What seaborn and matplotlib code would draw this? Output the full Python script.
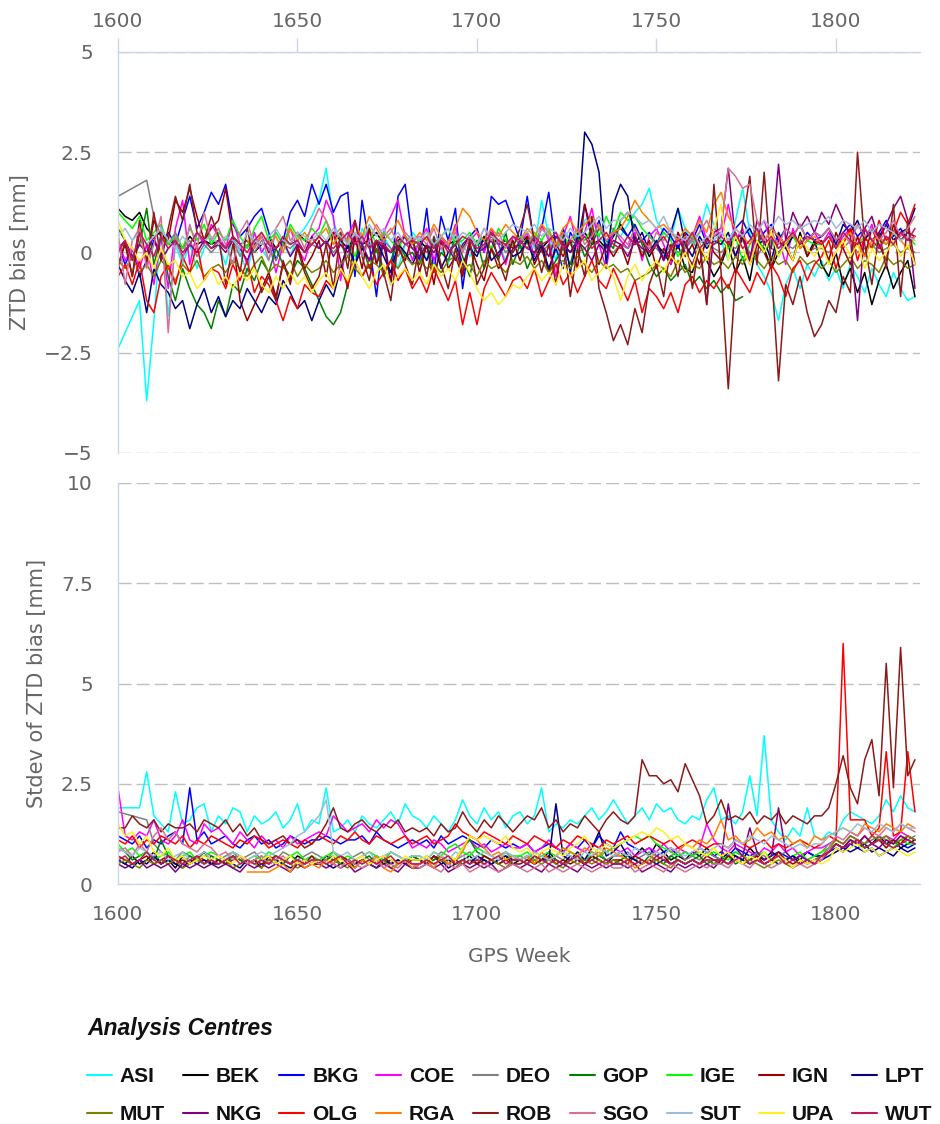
import matplotlib

matplotlib.use("Agg")

import matplotlib.pyplot as plt
import numpy as np
import pandas as pd
import seaborn as sns
from matplotlib.font_manager import FontProperties
from matplotlib.lines import Line2D
from matplotlib.ticker import FuncFormatter

# one value every second GPS week, values in tenths of a millimetre
WEEKS = list(range(1600, 1824, 2))

CENTRES = ["ASI", "BEK", "BKG", "COE", "DEO", "GOP", "IGE", "IGN", "LPT",
           "MUT", "NKG", "OLG", "RGA", "ROB", "SGO", "SUT", "UPA", "WUT"]
COLOURS = ["#00ffff", "#000000", "#0000ff", "#ff00ff", "#808080", "#008000",
           "#00ff00", "#990000", "#000080", "#808000", "#800080", "#ff0000",
           "#ff8000", "#8b1a1a", "#d87093", "#9dbcd8", "#ffee22", "#c0185a"]

X_TICKS = [1600, 1650, 1700, 1750, 1800]
BIAS_TICKS = [-5, -2.5, 0, 2.5, 5]
STDEV_TICKS = [0, 2.5, 5, 7.5, 10]

# ---- ZTD bias ----
BIAS_ASI = [-24, None, None, -12, -37, -17, 7, -16, 2, -3, 2, -4, 1, 3,
            2, -3, 4, 0, -5, 3, 1, -2, 5, 2, -1, 4, 6, 9,
            13, 21, 8, 2, 5, -3, 6, 3, -2, 4, 1, -4, 2, 5,
            3, -2, 4, 1, -3, 6, 2, -1, 3, 0, 5, 2, -2, 4,
            2, 5, 1, 13, 4, -2, 6, 3, 0, 8, 9, 4, 2, 6,
            4, 7, 10, 12, 16, 8, 5, 3, 11, 6, 2, 5, 12, 7,
            3, -2, 8, 16, 5, -3, -6, -10, -17, -8, -4, -9, -3, -6,
            -2, -7, -4, -9, -3, -6, -10, -4, -8, -11, -5, -9, -12, -11]
BIAS_BEK = [11, 9, 8, 10, 6, 4, 5, 2, 3, 1, 4, 2, 3, 2,
            3, 1, 4, 2, 3, 0, 2, 4, 1, 3, 2, 5, 3, 2,
            4, 2, 5, 3, 1, 4, 2, 3, 5, 2, 0, 3, 4, 2,
            3, 1, 2, 4, 2, 3, 1, 4, 2, 3, 4, 2, 3, 1,
            2, 4, 3, 1, 3, 4, 2, 0, 3, 5, 2, 3, 1, 4,
            7, 4, 2, 3, -1, 2, 0, -3, 2, -4, -5, 1, -2, -6,
            -3, 2, -5, -1, -7, 3, 1, -4, 0, 2, -2, 5, -1, 3,
            -3, -6, 0, -8, -4, -10, -5, -13, -7, -3, -9, -5, -2, -11]
BIAS_BKG = [2, -3, 1, -6, -2, 3, -1, 5, 2, 8, 14, 6, 10, 15,
            12, 17, 7, 4, 6, 9, 11, 5, -2, 3, 10, 13, 9, 17,
            12, 17, 10, 14, 15, -6, 13, 2, -11, 5, -8, 14, 17, 3,
            -2, 11, -5, 9, 3, 11, -9, 4, 6, 0, 14, 12, 13, 8,
            3, 14, 2, 6, 15, 1, -4, 5, 2, 12, 3, 8, 1, 5,
            6, 4, 7, 3, 5, 2, 6, 4, 1, 5, 3, 7, 2, 4,
            5, 3, 6, 8, 4, 2, 5, 7, 3, 6, 4, 2, 5, 3,
            4, 6, 3, 5, 7, 4, 6, 3, 5, 8, 4, 6, 3, 4]
BIAS_COE = [3, -2, 1, -4, 2, -8, 4, -9, 6, 13, -3, 5, 2, 7,
            4, 1, 8, 2, -3, 5, 0, 3, -5, 2, 6, 1, -2, 4,
            6, 13, 9, -7, 4, 8, 2, 6, -3, 5, 9, 13, 4, -2,
            3, 6, -2, 4, 1, 7, -4, 3, 5, 0, 6, 2, -3, 4,
            2, 5, -1, 7, 3, -6, 4, 9, 1, 5, 11, 2, -4, 6,
            3, 1, 5, -2, 4, 6, 2, -3, 5, 1, 4, 9, 3, 6,
            4, 12, 3, 6, -2, 5, 8, 2, 4, -3, 6, 1, 3, 5,
            2, 5, 1, 4, 6, 2, 3, 7, 1, 4, 2, 5, 3, 4]
BIAS_DEO = [14, None, None, None, 18, 9, 4, 2, 5, 1, 3, -1, 2, 0,
            2, 1, 3, -1, 2, 0, 3, 1, -2, 2, 1, 3, 0, 2,
            1, 3, 0, 2, -1, 3, 1, 2, 0, 3, 1, -1, 2, 1,
            2, 0, 3, 1, 2, -1, 1, 3, 0, 2, 1, 3, 0, 2,
            1, 3, 2, 0, 2, 1, 3, 2, 0, 1, 3, 2, 1, 0,
            2, 1, 3, 0, 2, 1, -1, 2, 0, 1, 3, 0, 2, 1,
            0, 2, 1, 3, 0, -1, 2, 1, 0, 2, 1, 3, 0, 1,
            1, 0, 2, 1, 3, 0, 1, 2, 0, 1, 2, 0, 1, 0]
BIAS_GOP = [6, 3, -2, 2, 11, -3, 4, -6, -12, -4, -9, -13, -15, -19,
            -12, -16, -8, -10, -4, -7, -2, -5, 1, -3, -6, -2, -4, -8,
            -12, -16, -18, -15, -8, -3, 2, -4, 1, -6, -2, 3, -1, 0,
            -3, 2, -5, 0, -2, 4, -1, -6, 3, -4, 1, -2, 5, -3,
            2, -4, 0, 3, -5, -2, 1, -3, 4, -1, 2, 6, 3, 1,
            8, 10, 6, 2, -3, -6, -4, -7, -5, -3, -8, -6, -9, -7,
            -10, -8, -12, -11, None, None, None, None, None, None, None, None, None, None,
            None, None, None, None, None, None, None, None, None, None, None, None, None, None]
BIAS_IGE = [10, 8, 6, 9, 3, 5, 7, 2, 4, 1, 6, 3, 7, 2,
            5, 3, 8, 4, 1, 6, 9, 3, 5, 2, 7, 4, 3, 6,
            4, 8, 2, 5, 3, -1, 4, 6, 2, 5, 3, 1, 4, 2,
            3, 5, 1, 4, 6, 2, 3, 5, 2, 4, 1, 6, 3, 2,
            4, 2, 5, 3, 6, 1, 4, 2, 5, 3, 6, 4, 9, 5,
            10, 8, 9, 6, 4, 2, 5, 3, -1, 2, 4, 1, 3, 2,
            3, 1, 4, -2, 2, 5, 0, 3, -1, 2, 4, 1, 3, 2,
            2, 4, 1, 3, 5, 2, 4, 1, 3, 2, 5, 3, 4, 2]
BIAS_IGN = [-3, 2, -6, 5, -2, 8, 4, 3, 13, 10, 16, 9, 3, 6,
            8, 16, 4, -12, -17, -13, -9, -5, -11, -3, -7, 2, -4, -1,
            3, -6, 5, -2, -9, 4, -4, 6, -3, 2, -7, 1, -2, 4,
            -5, 2, -8, 3, -4, -1, -6, 2, -3, -7, 1, -4, -2, 3,
            -2, 4, -3, 1, -5, 2, -1, 3, -4, 12, 5, -3, 2, -1,
            2, -3, 4, -1, 3, -4, 1, -2, 5, -1, 2, -3, 4, 0,
            -2, 3, -1, 4, -3, 2, 0, -4, 3, 1, -2, 4, -1, 2,
            3, -2, 5, 1, -3, 4, -1, 6, 2, -2, 7, 3, 5, 4]
BIAS_LPT = [-3, -7, -10, -5, -15, -4, -8, -10, -14, -12, -19, -13, -9, -15,
            -11, -16, -12, -14, -9, -12, -15, -11, -13, -7, -10, -14, -12, -17,
            -12, -8, -11, -4, 2, -3, 1, -2, 3, -1, -5, 2, 0, -3,
            1, -2, 3, -4, 0, 2, -3, 1, -1, 4, -2, 0, 2, -1,
            0, 3, -2, 2, -4, 1, 6, -5, 4, 30, 27, 20, -3, 12,
            17, 14, 2, 5, 0, 3, -2, 5, 11, 2, -1, 4, 1, 3,
            2, 5, -1, 4, 6, 2, 3, -2, 5, 1, 4, 7, 3, 5,
            4, 6, 2, 7, 5, 8, 3, 6, 4, 7, 3, 5, 6, 11]
BIAS_MUT = [-2, -4, -1, -5, -3, -6, -2, -4, -7, -3, -5, -2, -6, -4,
            -3, -5, -2, -4, -6, -3, -1, -5, -3, -4, -2, -6, -3, -5,
            -4, -2, -5, -3, -1, -4, -6, -2, -3, -5, -2, -4, -1, -3,
            -2, -4, -3, -5, -2, -1, -4, -3, -6, -2, -4, -3, -5, -2,
            -3, -1, -4, -2, -5, -3, -2, -4, -1, -3, -5, -2, -4, -3,
            -5, -4, -7, -6, -5, -3, -4, -6, -2, -5, -3, -4, -1, -3,
            -2, -4, -1, -3, 0, -2, -4, -1, -3, -2, -5, -1, -3, -2,
            -4, -2, -5, -3, -1, -4, -2, -3, -5, -1, -3, -2, -4, -3]
BIAS_NKG = [1, 3, -1, 2, 0, 4, -2, 1, 3, -1, 2, 0, 3, 1,
            2, 0, 3, 1, -2, 2, 4, 0, 1, 3, -1, 2, 0, 4,
            1, 3, -1, 2, 0, 4, 2, -2, 3, 1, 0, 2, 4, 1,
            -1, 2, 0, 3, 1, -2, 2, 4, 0, 1, 3, -1, 2, 0,
            3, 1, 0, 2, -1, 4, 2, 0, 3, 1, -2, 2, 0, 3,
            2, -1, 3, 1, 0, 2, -2, 1, 4, 0, -3, 2, -13, 5,
            6, 21, 3, 5, -2, 8, 4, 1, 22, 3, 10, 6, 9, 5,
            10, 7, 12, 8, 4, -17, 6, 9, 3, 7, 11, 14, 8, -9]
BIAS_OLG = [-6, -3, -8, -2, -12, -15, -6, -3, -8, -1, -5, 2, -7, -4,
            -5, -9, -3, -7, -2, -10, -6, -8, -12, -17, -11, -14, -8, -10,
            -11, -7, -9, -4, -8, -2, -6, -3, -8, -5, -2, -7, -4, -9,
            -6, -10, -4, -8, -12, -7, -18, -10, -18, -9, -5, -8, -11, -7,
            -6, -9, -4, -11, -7, -3, -8, -5, -10, -6, -2, -7, -9, -4,
            -8, -12, -7, -15, -9, -11, -14, -10, -15, -8, -6, -10, -7, -9,
            -6, -9, -4, -7, -10, -5, -8, -3, -6, -11, -4, -2, -7, -3,
            -1, 3, -4, 2, 6, -2, 4, 1, 8, 3, 5, 10, 7, 12]
BIAS_RGA = [None, None, None, None, None, None, None, None, None, None, None, None, None, None,
            None, None, None, None, 3, 1, 5, 2, 4, 0, 6, 3, 5, 2,
            4, 6, 2, 5, 3, 7, 4, 9, 6, 3, 5, 8, 4, 2,
            5, 3, 7, 4, 2, 6, 11, 9, 5, 3, 6, 4, 7, 5,
            3, 6, 4, 7, 5, 2, 6, 8, 5, 7, 9, 6, 4, 5,
            6, 9, 13, 10, 8, 6, 7, 5, 3, 6, 4, 8, 5, 12,
            15, 9, 6, 4, 2, 5, 3, 6, 4, 2, 5, 1, 3, 4,
            2, 4, 1, 3, 5, 2, -1, 3, 4, 2, 5, 3, 1, 4]
BIAS_ROB = [-4, 3, -6, 8, -3, 10, -2, 6, 14, 8, 17, 5, 3, 9,
            4, -8, 2, -5, 6, -3, -10, -6, -12, -2, -8, 1, -5, -9,
            -6, 2, -9, 5, -4, 8, -1, -7, 3, -5, -12, 2, -3, -8,
            2, -6, 4, -3, -9, 1, -5, 3, -8, -4, 5, -2, -7, 1,
            6, 12, 3, -5, 2, -8, 4, -11, 1, -6, 9, -9, -15, -22,
            -18, -23, -14, -20, -8, -3, -11, 2, -6, 5, -9, 3, -13, 17,
            -5, -34, -6, 7, 19, -3, 20, -4, -32, -8, -13, -6, -15, -21,
            -18, -12, -15, -6, -10, 25, 2, -8, 5, -4, 12, -11, 8, -3]
BIAS_SGO = [5, -8, 3, 6, -4, 2, 9, -20, 4, -2, 7, 1, 10, 3,
            6, 2, -3, 5, 8, 1, 4, -2, 6, 9, 3, 5, 1, 7,
            11, 8, 4, 6, 2, 5, -1, 3, 7, 4, 6, 2, 5, 3,
            4, 2, 6, 1, 3, 5, 0, 4, 2, 6, 3, 5, 1, 4,
            3, 5, 2, 6, 4, 1, 5, 3, 6, 2, 4, 7, 3, 5,
            4, 2, 6, 3, 1, 5, 3, 6, 2, 4, 3, 5, 8, 4,
            6, 21, 19, 16, 17, 8, 3, 5, 2, 6, 4, 7, 3, 5,
            4, 6, 3, 5, 2, 7, 4, 6, 3, 5, 8, 4, 6, 9]
BIAS_SUT = [4, 6, 3, 5, 2, 4, 6, 3, 1, 4, 2, 5, 3, 4,
            2, 4, 3, 1, 5, 3, 2, 4, 6, 3, 2, 5, 4, 3,
            5, 3, 6, 4, 2, 5, 3, 7, 4, 6, 3, 5, 2, 4,
            3, 5, 2, 4, 6, 3, 5, 4, 2, 6, 4, 3, 5, 7,
            6, 5, 7, 4, 6, 5, 3, 6, 4, 5, 7, 9, 6, 8,
            8, 10, 9, 7, 8, 6, 9, 5, 4, 3, 5, 2, 4, 3,
            5, 3, 6, 4, 7, 5, 8, 6, 9, 7, 8, 6, 7, 8,
            7, 9, 6, 8, 7, 6, 8, 5, 7, 6, 5, 3, 4, 3]
BIAS_UPA = [8, 3, 1, -2, 0, -4, 1, -3, -2, -6, -5, -9, -7, -4,
            -8, -6, -9, -5, -7, -4, -8, -10, -6, -9, -5, -8, -6, -10,
            -7, -5, -9, -4, -7, -2, -6, -9, -5, -3, -8, -6, -4, -7,
            -5, -8, -3, -6, -4, -7, -2, -5, -9, -12, -10, -13, -11, -8,
            -9, -6, -4, -7, -5, -8, -3, -6, -4, -2, -7, -5, -3, -6,
            -12, -6, -3, -7, -4, -2, -5, -1, -3, 0, -4, 2, -2, 6,
            12, -2, 4, 1, -3, 3, 0, 5, -1, 2, -2, 4, 1, -1,
            2, -3, 0, 3, -1, 2, -4, 1, -2, 0, 3, -1, 2, -3]
BIAS_WUT = [0, 3, -2, 5, 2, -1, 4, 1, 3, 0, 2, 5, 3, 1,
            3, 1, 4, 2, 0, 3, 5, 2, 1, 4, 2, 3, 0, 2,
            4, 2, 1, 3, 5, 2, 4, 1, 3, 2, 0, 4, 2, 3,
            2, 4, 1, 3, 0, 2, 4, 3, 1, 2, 5, 3, 2, 4,
            3, 1, 4, 2, 3, 5, 1, 3, 2, 4, 1, 3, 5, 2,
            1, 4, 2, 3, 0, 2, 4, 1, 3, 2, 5, 1, 3, 2,
            4, 2, 5, 1, 3, 6, 2, 4, 1, 3, 5, 2, 4, 3,
            2, 4, 1, 5, 3, 2, 6, 3, 1, 4, 2, 5, 3, 6]

# ---- Stdev of ZTD bias ----
STDEV_ASI = [19, 19, 19, 19, 28, 17, 15, 13, 23, 15, 16, 19, 20, 13,
             17, 15, 19, 18, 13, 17, 15, 16, 18, 14, 16, 20, 13, 16,
             15, 24, 13, 14, 16, 13, 17, 15, 14, 16, 18, 15, 20, 17,
             16, 14, 17, 15, 13, 16, 21, 17, 15, 19, 16, 18, 14, 17,
             18, 15, 17, 24, 13, 15, 14, 16, 15, 17, 19, 16, 18, 21,
             18, 15, 17, 19, 16, 20, 18, 19, 16, 15, 17, 16, 21, 24,
             16, 17, 15, 18, 27, 17, 37, 16, 13, 11, 14, 12, 19, 12,
             11, 13, 12, 16, 18, 17, 16, 15, 17, 21, 18, 22, 19, 18]
STDEV_BEK = [6, 5, 7, 5, 6, 8, 5, 6, 4, 7, 5, 6, 8, 5,
             6, 5, 7, 6, 5, 6, 4, 7, 5, 6, 5, 7, 6, 5,
             5, 7, 6, 5, 6, 4, 6, 5, 7, 5, 6, 5, 6, 7,
             6, 5, 7, 5, 6, 5, 6, 7, 5, 6, 5, 6, 7, 5,
             6, 7, 5, 6, 8, 6, 5, 7, 6, 5, 7, 6, 5, 7,
             8, 6, 7, 9, 7, 10, 8, 6, 7, 6, 8, 7, 9, 7,
             6, 8, 7, 6, 9, 7, 6, 8, 7, 6, 7, 6, 8, 7,
             7, 8, 10, 9, 10, 11, 9, 10, 12, 10, 11, 9, 10, 11]
STDEV_BKG = [12, 11, 10, 12, 9, 11, 10, 12, 13, 10, 24, 11, 13, 10,
             11, 12, 10, 9, 11, 12, 10, 11, 9, 10, 12, 11, 10, 11,
             11, 12, 11, 10, 11, 11, 12, 10, 13, 11, 10, 9, 10, 11,
             10, 11, 9, 12, 10, 11, 12, 11, 10, 9, 11, 10, 9, 10,
             9, 10, 8, 9, 10, 9, 8, 10, 9, 11, 9, 12, 10, 9,
             13, 10, 9, 8, 9, 7, 8, 9, 7, 8, 7, 9, 8, 7,
             8, 7, 9, 8, 7, 8, 6, 7, 8, 7, 6, 7, 8, 7,
             7, 8, 9, 8, 10, 9, 8, 9, 7, 8, 9, 10, 9, 10]
STDEV_COE = [24, 12, 11, 13, 12, 16, 11, 10, 12, 16, 11, 10, 15, 13,
             14, 12, 10, 13, 11, 9, 12, 10, 11, 9, 12, 10, 11, 12,
             13, 12, 17, 15, 13, 14, 15, 13, 16, 14, 16, 15, 12, 9,
             10, 9, 11, 10, 8, 9, 10, 11, 9, 10, 8, 9, 10, 9,
             9, 10, 8, 9, 11, 9, 8, 10, 9, 8, 10, 9, 8, 9,
             8, 9, 7, 8, 9, 8, 10, 8, 9, 8, 7, 9, 15, 11,
             9, 8, 10, 9, 8, 7, 9, 8, 10, 8, 9, 7, 8, 9,
             9, 10, 11, 10, 12, 11, 10, 12, 11, 12, 11, 13, 12, 11]
STDEV_DEO = [18, None, None, None, 16, 10, 8, 7, 6, 8, 7, 6, 8, 7,
             6, 7, 8, 6, 7, 8, 6, 7, 6, 8, 7, 6, 7, 8,
             7, 6, 8, 7, 6, 7, 8, 6, 7, 6, 8, 7, 6, 7,
             6, 7, 6, 8, 7, 6, 7, 8, 6, 7, 6, 7, 8, 6,
             7, 6, 8, 7, 6, 7, 6, 8, 7, 6, 7, 8, 6, 7,
             7, 8, 6, 7, 8, 7, 6, 7, 8, 6, 7, 6, 8, 7,
             6, 7, 8, 7, 6, 8, 7, 6, 7, 8, 6, 7, 6, 7,
             8, 10, 11, 10, 12, 11, 10, 11, 12, 11, 10, 12, 11, 12]
STDEV_GOP = [9, 8, 6, 7, 8, 6, 11, 7, 6, 5, 7, 6, 5, 7,
             6, 5, 7, 6, 5, 6, 7, 5, 6, 5, 7, 6, 5, 6,
             5, 6, 7, 5, 6, 5, 6, 7, 5, 6, 5, 6, 5, 7,
             6, 5, 6, 7, 5, 6, 9, 11, 8, 7, 6, 5, 6, 7,
             6, 7, 5, 6, 7, 6, 5, 6, 7, 5, 6, 7, 6, 5,
             6, 7, 6, 5, 7, 6, 5, 7, 6, 5, 6, 7, 5, 6,
             6, 7, 5, 6, None, None, None, None, None, None, None, None, None, None,
             None, None, None, None, None, None, None, None, None, None, None, None, None, None]
STDEV_IGE = [10, 8, 9, 7, 8, 6, 7, 8, 6, 7, 8, 6, 7, 8,
             7, 6, 8, 7, 6, 7, 6, 8, 7, 6, 7, 8, 6, 7,
             6, 7, 8, 6, 7, 6, 7, 8, 7, 6, 8, 7, 6, 7,
             7, 6, 8, 7, 9, 10, 8, 7, 9, 8, 7, 6, 8, 7,
             7, 8, 6, 7, 8, 7, 9, 8, 7, 6, 8, 7, 8, 9,
             10, 11, 12, 11, 12, 10, 9, 8, 7, 8, 7, 8, 7, 8,
             7, 6, 8, 7, 6, 7, 8, 6, 7, 6, 7, 8, 6, 7,
             8, 9, 10, 9, 11, 10, 9, 10, 11, 10, 9, 11, 10, 10]
STDEV_IGN = [7, 6, 5, 6, 7, 5, 6, 7, 5, 6, 5, 7, 6, 5,
             6, 5, 6, 7, 5, 6, 5, 6, 7, 6, 5, 6, 5, 7,
             5, 6, 5, 7, 6, 5, 6, 5, 6, 7, 5, 6, 5, 6,
             6, 5, 7, 6, 5, 6, 5, 6, 5, 7, 6, 5, 6, 5,
             5, 6, 5, 6, 7, 5, 6, 5, 6, 5, 7, 6, 5, 6,
             6, 5, 7, 6, 5, 6, 7, 5, 6, 5, 6, 5, 7, 6,
             5, 7, 6, 5, 6, 7, 5, 6, 8, 6, 5, 6, 5, 6,
             7, 8, 10, 9, 11, 10, 12, 10, 11, 9, 11, 10, 12, 11]
STDEV_LPT = [6, 5, 4, 6, 5, 7, 5, 6, 5, 4, 6, 5, 6, 5,
             5, 6, 5, 4, 6, 5, 6, 5, 6, 5, 4, 5, 6, 5,
             6, 5, 4, 5, 6, 5, 6, 5, 4, 6, 5, 6, 5, 4,
             5, 6, 5, 6, 4, 5, 6, 5, 7, 6, 5, 6, 7, 6,
             6, 5, 7, 6, 6, 20, 7, 6, 8, 6, 9, 13, 7, 8,
             10, 7, 6, 5, 6, 5, 6, 5, 6, 5, 6, 5, 6, 5,
             6, 5, 7, 6, 5, 6, 5, 6, 5, 6, 7, 5, 6, 5,
             6, 7, 8, 9, 8, 9, 10, 8, 9, 8, 7, 9, 8, 9]
STDEV_MUT = [5, 6, 5, 4, 6, 5, 6, 5, 6, 4, 5, 6, 5, 6,
             5, 6, 4, 5, 6, 5, 4, 6, 5, 6, 5, 4, 5, 6,
             6, 5, 6, 5, 4, 6, 5, 6, 5, 6, 4, 5, 6, 5,
             5, 6, 5, 6, 5, 4, 6, 5, 6, 5, 6, 5, 4, 6,
             6, 5, 6, 5, 6, 5, 4, 6, 5, 6, 5, 6, 5, 6,
             5, 6, 5, 6, 5, 6, 5, 4, 6, 5, 6, 5, 6, 5,
             6, 5, 6, 5, 6, 5, 4, 5, 6, 5, 4, 6, 5, 6,
             7, 9, 11, 10, 12, 11, 10, 12, 11, 12, 10, 11, 12, 11]
STDEV_NKG = [5, 4, 5, 6, 4, 5, 4, 5, 3, 5, 4, 5, 4, 5,
             4, 5, 4, 3, 5, 4, 5, 4, 5, 4, 3, 5, 4, 5,
             5, 4, 5, 4, 5, 3, 4, 5, 4, 5, 4, 3, 5, 4,
             4, 5, 4, 5, 3, 4, 5, 4, 5, 4, 5, 3, 4, 5,
             4, 5, 4, 3, 5, 4, 5, 4, 3, 5, 4, 5, 4, 5,
             5, 4, 5, 3, 4, 5, 4, 3, 5, 4, 5, 4, 5, 4,
             6, 20, 9, 7, 14, 8, 6, 7, 19, 8, 6, 7, 6, 5,
             6, 8, 10, 9, 11, 10, 12, 10, 9, 11, 10, 12, 11, 10]
STDEV_OLG = [11, 10, 12, 9, 11, 10, 12, 11, 10, 12, 9, 11, 10, 12,
             11, 10, 9, 11, 10, 12, 11, 9, 10, 11, 10, 9, 11, 10,
             12, 11, 10, 12, 11, 13, 11, 10, 12, 11, 10, 11, 12, 10,
             11, 12, 10, 11, 12, 15, 13, 12, 11, 13, 12, 11, 10, 12,
             11, 10, 12, 11, 10, 9, 11, 10, 12, 11, 10, 9, 11, 10,
             11, 12, 10, 11, 12, 11, 10, 11, 9, 10, 11, 10, 9, 10,
             10, 9, 11, 10, 9, 10, 11, 9, 10, 9, 10, 11, 10, 9,
             10, 12, 11, 60, 16, 16, 16, 12, 14, 33, 12, 13, 33, 18]
STDEV_RGA = [None, None, None, None, None, None, None, None, None, None, None, None, None, None,
             None, None, None, None, 3, 3, 3, 3, 4, 5, 3, 6, 4, 5,
             4, 6, 5, 7, 5, 4, 6, 5, 7, 4, 3, 5, 6, 4,
             5, 6, 4, 7, 5, 6, 8, 12, 11, 9, 7, 8, 6, 7,
             6, 7, 5, 8, 6, 7, 9, 8, 7, 9, 8, 7, 9, 8,
             7, 6, 4, 5, 6, 8, 7, 9, 8, 10, 9, 11, 10, 12,
             16, 11, 12, 10, 11, 14, 12, 13, 11, 12, 10, 11, 9, 12,
             11, 12, 13, 14, 13, 12, 15, 14, 13, 15, 14, 13, 15, 14]
STDEV_ROB = [14, 14, 17, 15, 14, 16, 13, 15, 14, 14, 15, 13, 16, 15,
             14, 16, 13, 15, 12, 14, 11, 10, 11, 12, 10, 11, 9, 10,
             12, 15, 19, 14, 13, 15, 16, 14, 13, 15, 14, 16, 13, 14,
             13, 14, 12, 15, 13, 14, 18, 15, 13, 16, 14, 17, 15, 13,
             15, 17, 16, 19, 14, 16, 13, 15, 14, 17, 15, 13, 16, 18,
             16, 15, 17, 31, 27, 27, 25, 26, 23, 30, 26, 22, 15, 17,
             21, 16, 17, 16, 18, 15, 17, 16, 18, 15, 17, 16, 15, 17,
             17, 19, 25, 32, 24, 20, 31, 36, 22, 55, 24, 59, 27, 31]
STDEV_SGO = [8, 9, 7, 10, 8, 12, 14, 11, 13, 10, 9, 8, 10, 9,
             7, 8, 6, 7, 5, 6, 7, 5, 6, 7, 5, 6, 5, 6,
             5, 6, 5, 4, 6, 5, 4, 5, 6, 4, 5, 4, 6, 5,
             4, 5, 4, 3, 5, 4, 5, 3, 4, 5, 4, 3, 4, 5,
             4, 3, 4, 5, 3, 4, 3, 4, 5, 4, 3, 4, 5, 4,
             4, 5, 3, 4, 5, 4, 3, 5, 4, 3, 4, 5, 4, 5,
             5, 4, 6, 5, 4, 6, 5, 4, 5, 6, 4, 5, 4, 5,
             6, 9, 12, 11, 13, 12, 14, 13, 12, 14, 13, 15, 14, 13]
STDEV_SUT = [9, 8, 7, 9, 8, 7, 8, 6, 7, 8, 6, 7, 8, 6,
             7, 6, 8, 7, 6, 7, 8, 7, 8, 9, 10, 12, 13, 15,
             17, 21, 8, 7, 8, 6, 7, 8, 6, 7, 8, 7, 6, 7,
             7, 6, 8, 7, 6, 8, 7, 6, 7, 8, 7, 6, 8, 7,
             6, 7, 8, 7, 6, 7, 8, 7, 6, 8, 7, 9, 8, 7,
             8, 7, 9, 8, 7, 8, 7, 9, 8, 7, 8, 9, 8, 9,
             10, 9, 11, 10, 12, 11, 10, 12, 11, 10, 9, 10, 9, 10,
             10, 12, 13, 14, 13, 15, 14, 13, 15, 14, 13, 15, 14, 14]
STDEV_UPA = [15, 12, 13, 10, 12, 8, 7, 9, 6, 7, 5, 6, 7, 6,
             7, 6, 5, 7, 6, 5, 6, 7, 5, 6, 7, 5, 6, 5,
             6, 5, 7, 6, 5, 6, 7, 5, 6, 7, 6, 5, 7, 6,
             6, 7, 5, 6, 7, 6, 9, 12, 11, 12, 11, 10, 12, 9,
             8, 9, 7, 8, 9, 8, 7, 9, 10, 12, 9, 8, 10, 9,
             10, 11, 12, 13, 12, 14, 13, 11, 12, 10, 9, 8, 7, 9,
             7, 8, 6, 5, 7, 6, 8, 5, 7, 6, 4, 6, 5, 6,
             5, 6, 9, 8, 9, 10, 8, 9, 7, 8, 9, 8, 7, 8]
STDEV_WUT = [6, 7, 5, 6, 8, 6, 5, 7, 6, 5, 6, 7, 5, 6,
             5, 6, 7, 5, 6, 5, 6, 5, 7, 6, 5, 6, 5, 6,
             6, 5, 6, 7, 5, 6, 5, 6, 5, 6, 7, 5, 6, 5,
             5, 6, 5, 6, 7, 5, 6, 5, 6, 5, 6, 7, 5, 6,
             6, 5, 7, 6, 5, 6, 5, 6, 7, 5, 6, 5, 6, 5,
             5, 6, 5, 6, 5, 7, 6, 5, 6, 5, 6, 5, 6, 6,
             6, 5, 6, 7, 5, 6, 5, 6, 7, 5, 6, 5, 6, 5,
             7, 8, 10, 9, 10, 11, 9, 10, 11, 10, 9, 10, 11, 10]

BIAS = dict(zip(CENTRES, [BIAS_ASI, BIAS_BEK, BIAS_BKG, BIAS_COE, BIAS_DEO, BIAS_GOP,
                          BIAS_IGE, BIAS_IGN, BIAS_LPT, BIAS_MUT, BIAS_NKG, BIAS_OLG,
                          BIAS_RGA, BIAS_ROB, BIAS_SGO, BIAS_SUT, BIAS_UPA, BIAS_WUT]))
STDEV = dict(zip(CENTRES, [STDEV_ASI, STDEV_BEK, STDEV_BKG, STDEV_COE, STDEV_DEO, STDEV_GOP,
                           STDEV_IGE, STDEV_IGN, STDEV_LPT, STDEV_MUT, STDEV_NKG, STDEV_OLG,
                           STDEV_RGA, STDEV_ROB, STDEV_SGO, STDEV_SUT, STDEV_UPA, STDEV_WUT]))

AXIS_BLUE = "#ccd6eb"
GRID_GREY = "#c0c0c0"
LABEL_GREY = "#666666"


def to_long(series: dict) -> pd.DataFrame:
    """Stack per-centre lists into a long frame, in mm, dropping gaps."""
    frames = []
    for centre in CENTRES:
        values = np.array(series[centre], dtype=float) / 10.0
        frames.append(pd.DataFrame({"week": WEEKS, "value": values, "centre": centre}))
    return pd.concat(frames, ignore_index=True).dropna()


def minus_fmt(value, _pos):
    return f"{value:g}".replace("-", "\u2212")


def style_axis(ax, ticks, top_axis: bool) -> None:
    ax.set_xlim(1600, 1823.4)
    ax.set_ylim(ticks[0], ticks[-1])
    ax.set_xticks(X_TICKS)
    ax.set_yticks(ticks)
    ax.yaxis.set_major_formatter(FuncFormatter(minus_fmt))
    ax.grid(axis="y", color=GRID_GREY, linestyle=(0, (9.4, 3.6)), linewidth=1.0)
    ax.grid(axis="x", visible=False)
    ax.set_axisbelow(True)
    ax.spines["right"].set_visible(False)
    ax.spines["left"].set_color(AXIS_BLUE)
    ax.spines["left"].set_linewidth(1.0)
    if top_axis:
        ax.xaxis.tick_top()
        ax.spines["bottom"].set_visible(False)
        ax.spines["top"].set_color(AXIS_BLUE)
        ax.spines["top"].set_linewidth(1.0)
    else:
        ax.spines["top"].set_visible(False)
        ax.spines["bottom"].set_color(AXIS_BLUE)
        ax.spines["bottom"].set_linewidth(1.0)
    ax.tick_params(axis="x", direction="out", length=10, width=1.0, color=AXIS_BLUE,
                   pad=5, labelsize=14.5, labelcolor=LABEL_GREY)
    ax.tick_params(axis="y", length=0, pad=18, labelsize=14.5, labelcolor=LABEL_GREY)
    ax.set_xlabel("")


sns.set_style("white")
plt.rcParams["font.family"] = ["DejaVu Sans"]

palette = dict(zip(CENTRES, COLOURS))
fig = plt.figure(figsize=(9.4, 11.24), dpi=100)
ax_top = fig.add_axes([0.1255, 0.5970, 0.8532, 0.3568])
ax_bot = fig.add_axes([0.1255, 0.2135, 0.8532, 0.3568])

for ax, series in ((ax_top, BIAS), (ax_bot, STDEV)):
    sns.lineplot(data=to_long(series), x="week", y="value", hue="centre",
                 hue_order=CENTRES, palette=palette, estimator=None, errorbar=None,
                 linewidth=1.1, legend=False, ax=ax)

style_axis(ax_top, BIAS_TICKS, top_axis=True)
style_axis(ax_bot, STDEV_TICKS, top_axis=False)
ax_top.set_ylabel("ZTD bias [mm]", fontsize=15, color=LABEL_GREY, labelpad=10)
ax_bot.set_ylabel("Stdev of ZTD bias [mm]", fontsize=15, color=LABEL_GREY, labelpad=10)
ax_bot.set_xlabel("GPS Week", fontsize=14.5, color=LABEL_GREY, labelpad=17)

# legend: first row ASI..LPT, second row MUT..WUT
row1, row2 = CENTRES[:9], CENTRES[9:]
order = [c for pair in zip(row1, row2) for c in pair]
handles = [Line2D([], [], color=palette[c], linewidth=1.5) for c in order]
legend_font = FontProperties(family="Liberation Sans", weight="bold", size=15)
fig.legend(handles, order, ncol=9, loc="upper left", bbox_to_anchor=(0.0926, 0.0504),
           frameon=False, prop=legend_font, handlelength=1.2, handletextpad=0.38,
           columnspacing=0.84, labelspacing=0.9, borderpad=0, borderaxespad=0,
           labelcolor="#111111")
fig.text(0.0926, 1 - 1028 / 1124, "Analysis Centres", va="center", ha="left",
         fontproperties=FontProperties(family="Liberation Sans", weight="bold",
                                       style="italic", size=16.5), color="#111111")

fig.savefig("out.png", dpi=100)
plt.close(fig)
